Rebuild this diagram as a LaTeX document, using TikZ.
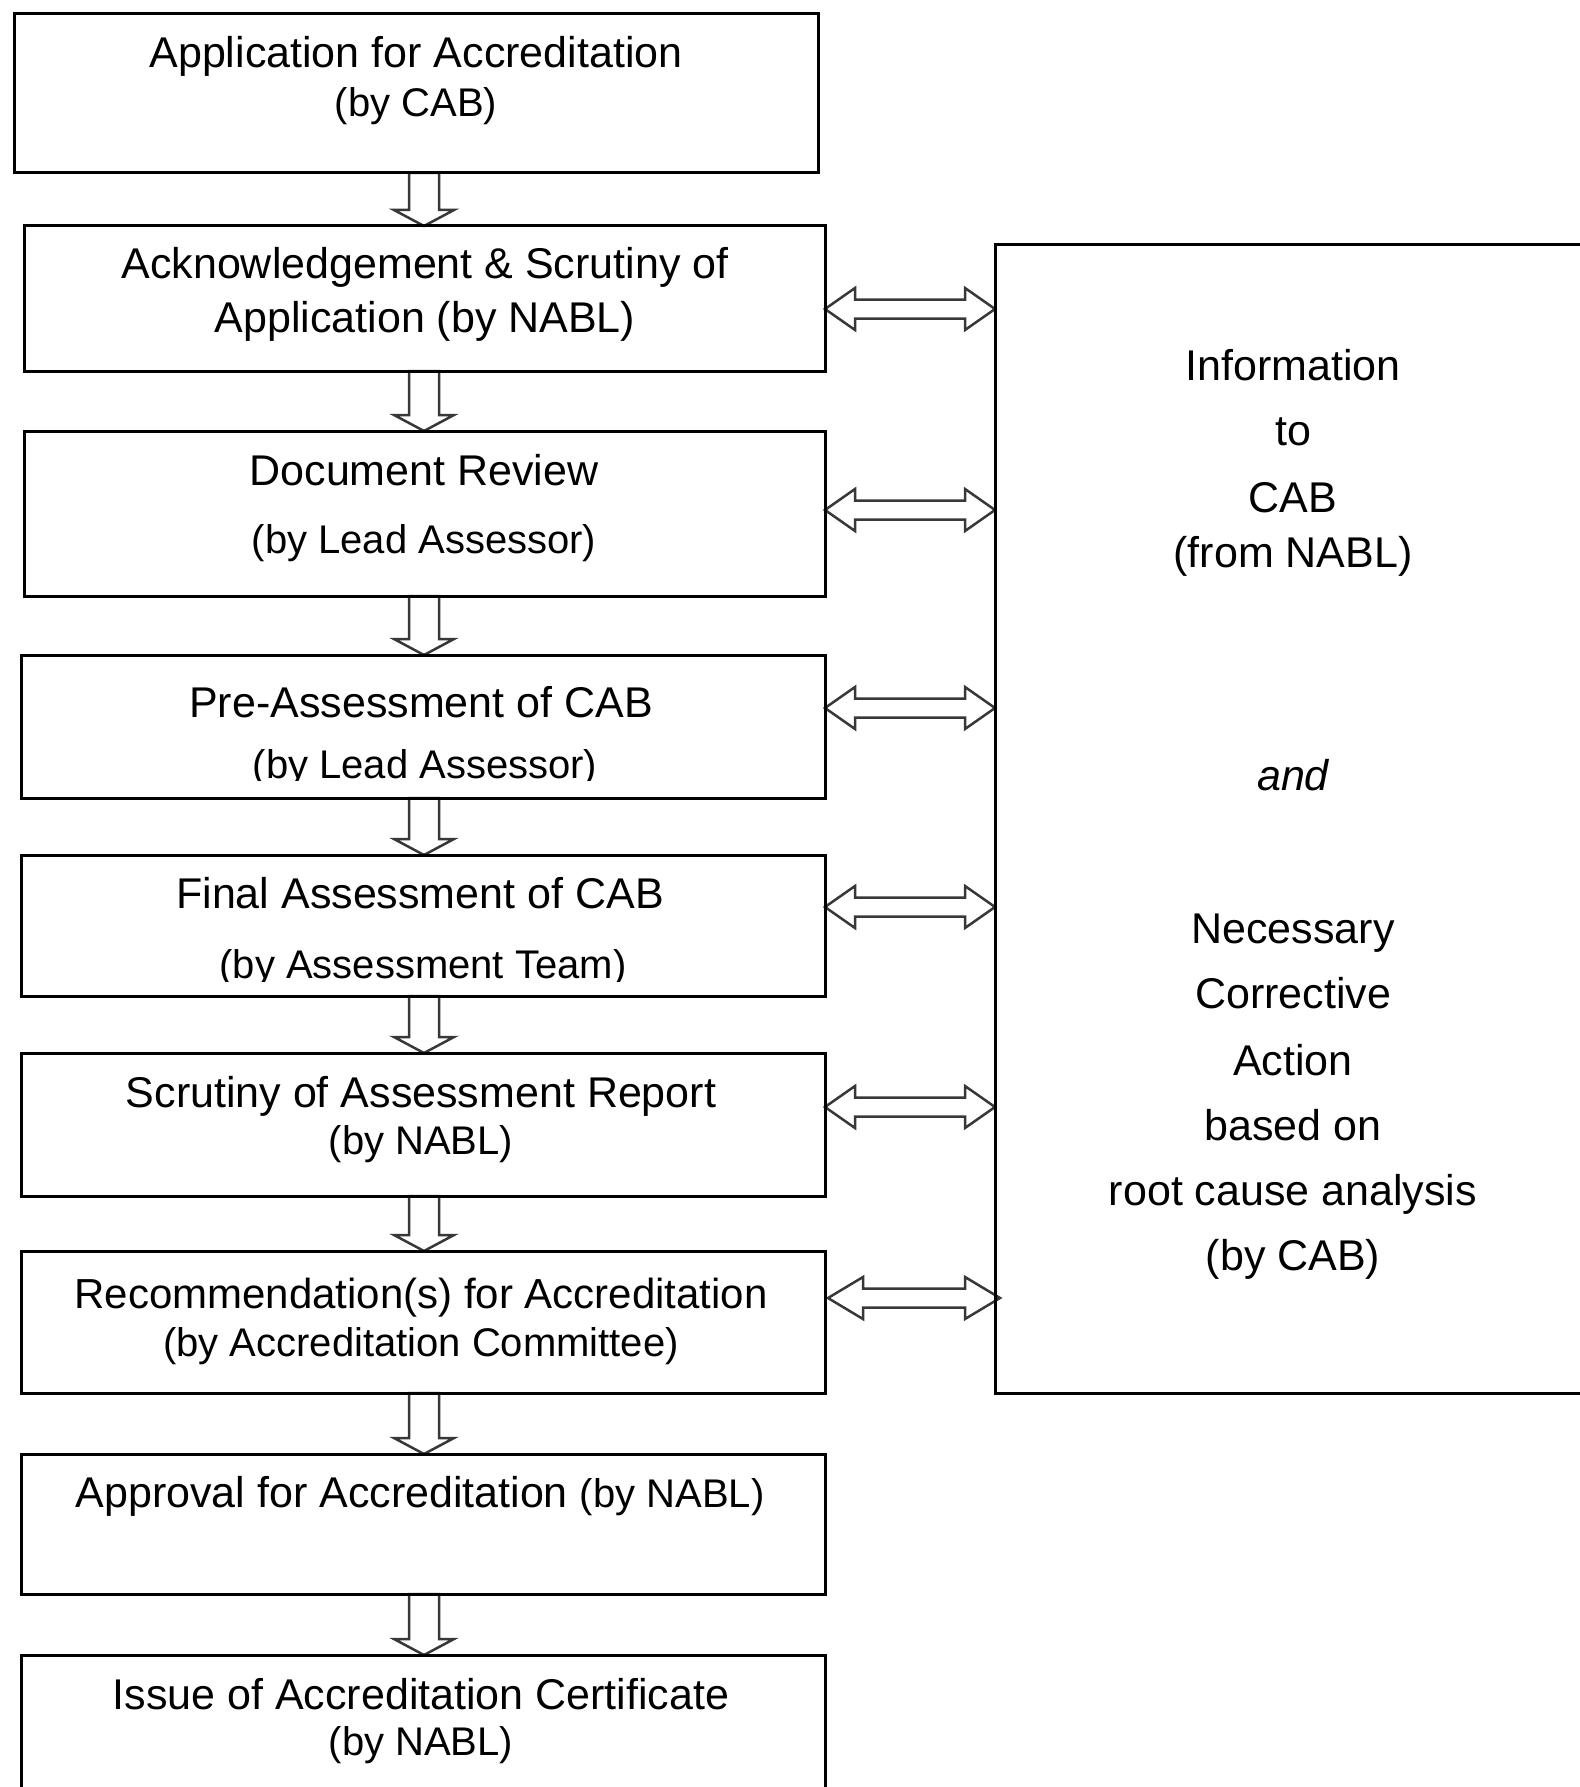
\documentclass[tikz,border=0pt]{standalone}
\usepackage{fontspec}
\setmainfont{Liberation Sans}
\usetikzlibrary{calc}
\pgfdeclarelayer{bg}
\pgfdeclarelayer{back}
\pgfsetlayers{bg,back,main}
\tikzset{
  box/.style={draw=black, line width=3pt, rectangle, inner sep=0pt, outer sep=0pt},
  big/.style={font=\fontsize{43}{50}\selectfont, anchor=base, inner sep=0pt, text=black},
  small/.style={font=\fontsize{40}{46}\selectfont, anchor=base, inner sep=0pt, text=black},
  blockarrow/.style={draw=black!78, line width=2.5pt, fill=white, line join=miter},
}
% vertical block arrow between two named boxes
\newcommand\vblock[2]{%
  \coordinate (vs) at (#1.south -| ax);
  \coordinate (ve) at (#2.north -| ax);
  \draw[blockarrow] ($(vs)+(-15,0)$) -- ($(ve)+(-15,-16)$) -- ($(ve)+(-30,-16)$)
    -- (ve) -- ($(ve)+(30,-16)$) -- ($(ve)+(15,-16)$) -- ($(vs)+(15,0)$) -- cycle;
}
% horizontal double block arrow: #1 level coordinate, #2 left node, #3 right node, #4/#5 tip shifts, #6 head length
\newcommand\hblock[6]{%
  \coordinate (hl) at ($(#2.east |- #1)+(#4,0)$);
  \coordinate (hr) at ($(#3.west |- #1)+(#5,0)$);
  \draw[blockarrow] (hl) -- ($(hl)+(#6,-21)$) -- ($(hl)+(#6,-9.5)$) -- ($(hr)+(-#6,-9.5)$)
    -- ($(hr)+(-#6,-21)$) -- (hr) -- ($(hr)+(-#6,21)$) -- ($(hr)+(-#6,9.5)$)
    -- ($(hl)+(#6,9.5)$) -- ($(hl)+(#6,21)$) -- cycle;
}
\begin{document}
\begin{tikzpicture}[x=1pt,y=-1pt]
\useasboundingbox (0,0) rectangle (1579,1787);
\begin{pgfonlayer}{bg}
  \fill[white] (0,0) rectangle (1579,1787);
\end{pgfonlayer}

% boxes
\node[box, minimum width=804pt, minimum height=159pt] (b1) at (416,93.5) {};
\node[box, minimum width=801pt, minimum height=145pt] (b2) at (424.5,298.5) {};
\node[box, minimum width=801pt, minimum height=165pt] (b3) at (424.5,513.5) {};
\node[box, minimum width=804pt, minimum height=143pt] (b4) at (423,726.5) {};
\node[box, minimum width=804pt, minimum height=141pt] (b5) at (423,925.5) {};
\node[box, minimum width=804pt, minimum height=143pt] (b6) at (423,1124.5) {};
\node[box, minimum width=804pt, minimum height=142pt] (b7) at (423,1322) {};
\node[box, minimum width=804pt, minimum height=140pt] (b8) at (423,1524) {};
\node[box, minimum width=804pt, minimum height=175pt] (b9) at (423,1742.5) {};
\node[box, minimum width=625pt, minimum height=1148pt] (R) at (1307.5,819) {};

% texts of the left boxes
\node[big] (b1t1) at (416,68) {Application for Accreditation};
\node[small] (b1t2) at (416,117) {(by CAB)};
\node[big] (b2t1) at (425,278) {Acknowledgement \& Scrutiny of};
\node[big] (b2t2) at (425,332) {Application (by NABL)};
\node[big] (b3t1) at (424,485) {Document Review};
\node[small] (b3t2) at (424,553) {(by Lead Assessor)};
\node[big] (b4t1) at (421,717) {Pre-Assessment of CAB};
\begin{scope}
  \clip (21,730) rectangle (825,780);
  \node[small] (b4t2) at (425,778) {(by Lead Assessor)};
\end{scope}
\node[big] (b5t1) at (420,908) {Final Assessment of CAB};
\begin{scope}
  \clip (21,930) rectangle (825,981);
  \node[small] (b5t2) at (423,978) {(by Assessment Team)};
\end{scope}
\node[big] (b6t1) at (421,1107) {Scrutiny of Assessment Report};
\node[small] (b6t2) at (421,1154) {(by NABL)};
\node[big, font=\fontsize{42}{48}\selectfont] (b7t1) at (421,1308) {Recommendation(s) for Accreditation};
\node[small] (b7t2) at (421,1356) {(by Accreditation Committee)};
\node[big] (b8t1) at (420,1507) {Approval for Accreditation {\fontsize{40}{46}\selectfont(by NABL)}};
\node[big] (b9t1) at (421,1709) {Issue of Accreditation Certificate};
\node[small] (b9t2) at (421,1755) {(by NABL)};

% texts of the right box
\node[big] (r1) at (1293,380) {Information};
\node[big] (r2) at (1293,445) {to};
\node[big] (r3) at (1293,512) {CAB};
\node[big] (r4) at (1293,567) {(from NABL)};
\node[big] (r5) at (1293,790) {\itshape and};
\node[big] (r6) at (1293,943) {Necessary};
\node[big] (r7) at (1293,1008) {Corrective};
\node[big] (r8) at (1293,1075) {Action};
\node[big] (r9) at (1293,1140) {based on};
\node[big] (r10) at (1293,1205) {root cause analysis};
\node[big] (r11) at (1293,1270) {(by CAB)};

% arrows (behind the box borders)
\coordinate (ax) at (424,0);
\coordinate (y2) at (0,309);
\coordinate (y3) at (0,510);
\coordinate (y4) at (0,708);
\coordinate (y5) at (0,907);
\coordinate (y6) at (0,1107);
\coordinate (y7) at (0,1298);
\begin{pgfonlayer}{back}
  \vblock{b1}{b2}
  \vblock{b2}{b3}
  \vblock{b3}{b4}
  \vblock{b4}{b5}
  \vblock{b5}{b6}
  \vblock{b6}{b7}
  \vblock{b7}{b8}
  \vblock{b8}{b9}
  \hblock{y2}{b2}{R}{0}{0}{30}
  \hblock{y3}{b3}{R}{0}{0}{30}
  \hblock{y4}{b4}{R}{0}{0}{30}
  \hblock{y5}{b5}{R}{0}{0}{30}
  \hblock{y6}{b6}{R}{0}{0}{30}
  \hblock{y7}{b7}{R}{3}{5}{35}
\end{pgfonlayer}
\end{tikzpicture}
\end{document}
